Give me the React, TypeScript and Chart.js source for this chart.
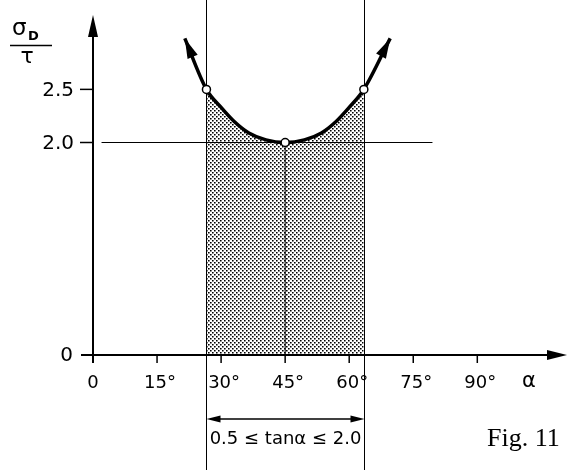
import React, { useEffect, useRef } from "react";
import { Chart, registerables } from "chart.js";

Chart.register(...registerables);

// ---- data ----
const curveAlpha = [21.5, 26.57, 30, 33, 36.5, 40.5, 45, 49.5, 53.5, 57, 60, 63.43, 69.6];
const curveRatio = [2.98, 2.5, 2.33, 2.2, 2.09, 2.025, 2.0, 2.025, 2.09, 2.2, 2.33, 2.5, 2.98];
const bandAlpha = [26.57, 63.43]; // tanα = 0.5 and tanα = 2.0
const markerAlpha = [26.57, 45, 63.43];
const markerRatio = [2.5, 2.0, 2.5];
const refRatio = 2.0;
const refLineAlpha = [2, 79.5];
const xTicks = [0, 15, 30, 45, 60, 75, 90];
const xTickLabels = ["0", "15°", "30°", "45°", "60°", "75°", "90°"];
const yTicks = [0, 2.0, 2.5];
const yTickLabels = ["0", "2.0", "2.5"];
const xAxisLabel = "α";
const yLabelTop = "σ";
const yLabelSub = "D";
const yLabelBottom = "τ";
const bandLabel = "0.5 ≤ tanα ≤ 2.0";
const figLabel = "Fig. 11";

const SANS = '"DejaVu Sans", sans-serif';

function arrowHead(ctx: CanvasRenderingContext2D, fx: number, fy: number, tx: number, ty: number, len: number, hw: number) {
  const dx = tx - fx;
  const dy = ty - fy;
  const d = Math.hypot(dx, dy) || 1;
  const ux = dx / d;
  const uy = dy / d;
  const bx = tx - ux * len;
  const by = ty - uy * len;
  ctx.beginPath();
  ctx.moveTo(tx, ty);
  ctx.lineTo(bx - uy * hw, by + ux * hw);
  ctx.lineTo(bx + uy * hw, by - ux * hw);
  ctx.closePath();
  ctx.fill();
}

function seg(ctx: CanvasRenderingContext2D, x1: number, y1: number, x2: number, y2: number) {
  ctx.beginPath();
  ctx.moveTo(x1, y1);
  ctx.lineTo(x2, y2);
  ctx.stroke();
}

const figPlugin = {
  id: "figPlugin",
  beforeDatasetsDraw(chart: any) {
    const { ctx } = chart;
    const xs = chart.scales.x;
    ctx.save();
    ctx.strokeStyle = "#000";
    ctx.lineWidth = 1;
    for (const a of bandAlpha) {
      const px = Math.round(xs.getPixelForValue(a)) + 0.5;
      seg(ctx, px, 0, px, chart.height);
    }
    ctx.restore();
  },
  afterDatasetsDraw(chart: any) {
    const { ctx, chartArea } = chart;
    const xs = chart.scales.x;
    const ys = chart.scales.y;
    const x0 = xs.getPixelForValue(0);
    const y0 = ys.getPixelForValue(0);
    ctx.save();
    ctx.strokeStyle = "#000";
    ctx.fillStyle = "#000";

    // curve end arrowheads
    const meta = chart.getDatasetMeta(1);
    const pts = meta.data;
    if (pts.length > 1) {
      const a = pts[0], b = pts[1];
      const n = pts.length;
      const c = pts[n - 1], d = pts[n - 2];
      arrowHead(ctx, b.x, b.y, a.x, a.y, 20, 5.5);
      arrowHead(ctx, d.x, d.y, c.x, c.y, 20, 5.5);
    }

    // axes
    ctx.lineWidth = 2;
    seg(ctx, x0, y0 + 8, x0, chartArea.top + 12);
    arrowHead(ctx, x0, y0, x0, chartArea.top, 22, 5);
    seg(ctx, x0 - 12, y0, chart.width - 12, y0);
    arrowHead(ctx, x0, y0, chart.width - 1, y0, 20, 5);

    // y ticks
    ctx.lineWidth = 1.5;
    ctx.font = `20px ${SANS}`;
    ctx.textAlign = "right";
    ctx.textBaseline = "middle";
    yTicks.forEach((v, i) => {
      const py = ys.getPixelForValue(v);
      if (v !== 0) seg(ctx, x0 - 13, py, x0, py);
      ctx.fillText(yTickLabels[i], v === 0 ? x0 - 20 : x0 - 19, py + 1);
    });

    // x ticks
    ctx.textAlign = "center";
    ctx.font = `18px ${SANS}`;
    xTicks.forEach((v, i) => {
      const px = xs.getPixelForValue(v);
      if (v !== 0) seg(ctx, px, y0, px, y0 + 8);
      ctx.fillText(xTickLabels[i], px + (v === 0 ? 0 : 3), y0 + 28);
    });
    ctx.font = `21px ${SANS}`;
    ctx.fillText(xAxisLabel, 529, y0 + 27);

    // y axis label (fraction)
    ctx.textAlign = "left";
    ctx.textBaseline = "alphabetic";
    ctx.font = `23px ${SANS}`;
    ctx.fillText(yLabelTop, 12, 35);
    ctx.font = `bold 13px ${SANS}`;
    ctx.fillText(yLabelSub, 28, 40);
    ctx.lineWidth = 1.5;
    seg(ctx, 10, 45.5, 52, 45.5);
    ctx.font = `22px ${SANS}`;
    ctx.textAlign = "center";
    ctx.fillText(yLabelBottom, 27, 63);

    // dimension line under the band
    const bl = Math.round(xs.getPixelForValue(bandAlpha[0])) + 0.5;
    const br = Math.round(xs.getPixelForValue(bandAlpha[1])) + 0.5;
    const dy = y0 + 64;
    ctx.lineWidth = 1.5;
    seg(ctx, bl + 8, dy, br - 8, dy);
    arrowHead(ctx, br, dy, bl, dy, 14, 3.5);
    arrowHead(ctx, bl, dy, br, dy, 14, 3.5);
    ctx.font = `18px ${SANS}`;
    ctx.textBaseline = "middle";
    ctx.fillText(bandLabel, (bl + br) / 2, y0 + 84);

    // figure caption
    ctx.textAlign = "left";
    ctx.font = `26px "Liberation Serif", serif`;
    ctx.fillText(figLabel, 487, y0 + 84);
    ctx.restore();
  },
};

export default function App() {
  const ref = useRef<HTMLCanvasElement | null>(null);

  useEffect(() => {
    const canvas = ref.current;
    if (!canvas) return;

    // stipple pattern
    const tile = document.createElement("canvas");
    tile.width = 4;
    tile.height = 4;
    const tctx = tile.getContext("2d")!;
    tctx.fillStyle = "#000";
    tctx.fillRect(0, 0, 1.6, 1.5);
    tctx.fillRect(2, 2, 1.6, 1.5);
    const pattern = canvas.getContext("2d")!.createPattern(tile, "repeat");

    const curve = curveAlpha.map((a, i) => ({ x: a, y: curveRatio[i] }));
    const band = curve.filter((p) => p.x >= bandAlpha[0] - 1e-6 && p.x <= bandAlpha[1] + 1e-6);
    const markers = markerAlpha.map((a, i) => ({ x: a, y: markerRatio[i] }));
    const hLine = refLineAlpha.map((a) => ({ x: a, y: refRatio }));
    const vLine = [
      { x: markerAlpha[1], y: 0 },
      { x: markerAlpha[1], y: markerRatio[1] },
    ];

    const chart = new Chart(canvas, {
      type: "line",
      data: {
        datasets: [
          {
            data: markers,
            showLine: false,
            pointRadius: 4,
            pointBackgroundColor: "#fff",
            pointBorderColor: "#000",
            pointBorderWidth: 1.5,
          },
          {
            data: curve,
            borderColor: "#000",
            borderWidth: 3.5,
            pointRadius: 0,
            cubicInterpolationMode: "monotone",
            fill: false,
          },
          {
            data: hLine,
            borderColor: "#000",
            borderWidth: 1,
            pointRadius: 0,
            fill: false,
          },
          {
            data: vLine,
            borderColor: "#000",
            borderWidth: 1,
            pointRadius: 0,
            fill: false,
          },
          {
            data: band,
            borderWidth: 0,
            borderColor: "rgba(0,0,0,0)",
            backgroundColor: pattern as any,
            pointRadius: 0,
            cubicInterpolationMode: "monotone",
            fill: "origin",
          },
        ],
      },
      options: {
        responsive: false,
        animation: false,
        events: [],
        layout: { padding: { left: 93, right: 48, top: 15, bottom: 115 } },
        plugins: { legend: { display: false }, tooltip: { enabled: false } },
        scales: {
          x: { type: "linear", min: 0, max: 100, display: false },
          y: { type: "linear", min: 0, max: 3.2, display: false },
        },
      },
      plugins: [figPlugin],
    } as any);

    return () => chart.destroy();
  }, []);

  return (
    <div style={{ position: "absolute", left: 0, top: 0, width: 568, height: 470, background: "#fff" }}>
      <canvas ref={ref} width={568} height={470} style={{ display: "block" }} />
    </div>
  );
}
